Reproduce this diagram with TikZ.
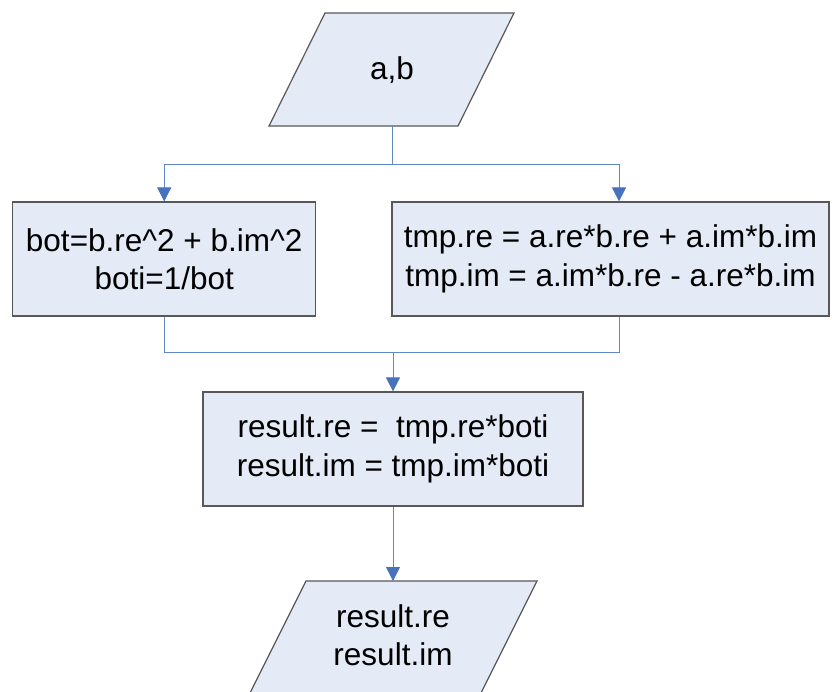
\documentclass[tikz,border=0pt]{standalone}
\usepackage{fontspec}
\setmainfont{Liberation Sans}
\usetikzlibrary{arrows.meta}
\definecolor{boxfill}{RGB}{228,234,246}
\definecolor{boxedge}{RGB}{88,88,88}
\definecolor{flow}{RGB}{96,136,198}
\definecolor{flowtip}{RGB}{70,114,190}
\begin{document}
\begin{tikzpicture}[x=1pt,y=-1pt,
  txt/.style={font=\fontsize{31.5}{38.5}\selectfont,align=center,inner sep=0pt},
  proc/.style={txt,draw=boxedge,fill=boxfill,line width=1.2pt},
  iobox/.style={draw=boxedge,fill=boxfill,line width=1.2pt},
  link/.style={draw=flow,line width=1pt},
  arr/.style={link,-{Triangle[length=14pt,width=14pt,fill=flowtip,color=flowtip]}}]
\clip (0,0) rectangle (835,691);
\fill[white] (0,0) rectangle (835,691);

% input parallelogram
\filldraw[iobox] (325,13) -- (514,13) -- (458,126) -- (269,126) -- cycle;
\node[txt] (inp) at (392,70) {a,b};
\coordinate (inpB) at (392,126);

% processing boxes
\node[proc,minimum width=303pt,minimum height=114pt] (lbox) at (164.2,259)
  {bot=b.re\^{}2 + b.im\^{}2\\boti=1/bot};
\node[proc,minimum width=437pt,minimum height=114pt] (rbox) at (610.5,259)
  {tmp.re = a.re*b.re + a.im*b.im\\tmp.im = a.im*b.re - a.re*b.im};
\node[proc,minimum width=380pt,minimum height=114pt] (mbox) at (393,449)
  {result.re = \ tmp.re*boti\\result.im = tmp.im*boti};

% output parallelogram (runs past the lower edge)
\filldraw[iobox] (306,581) -- (537,581) -- (467.5,720) -- (236.5,720) -- cycle;
\node[txt] (outp) at (393,635) {result.re\\result.im};
\coordinate (outT) at (393,581);

% junction points
\coordinate (fork) at (392,164);
\coordinate (join) at (393,352);

% connectors
\draw[link] (inpB) -- (fork);
\draw[arr] (fork) -| (lbox.north);
\draw[arr] (fork) -| ([xshift=8.5pt]rbox.north);
\draw[link] (lbox.south) |- (join);
\draw[link] ([xshift=8.5pt]rbox.south) |- (join);
\draw[arr] (join) -- (mbox.north);
\draw[arr] (mbox.south) -- (outT);
\end{tikzpicture}
\end{document}
